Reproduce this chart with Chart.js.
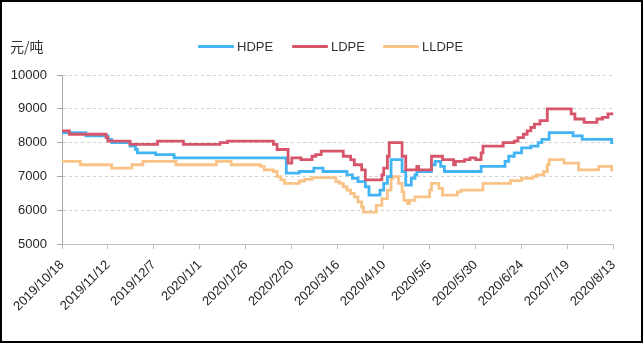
<!DOCTYPE html>
<html>
<head>
<meta charset="utf-8">
<script src="https://cdn.jsdelivr.net/npm/chart.js@4.4.0/dist/chart.umd.min.js"></script>
<style>
  html, body { margin: 0; padding: 0; background: #fff; }
  #wrap { position: relative; width: 644px; height: 347px; overflow: hidden; background: #fff; }
  #c { position: absolute; left: 0; top: 0; }
  #frame { position: absolute; left: 0; top: 0; width: 643px; height: 343px; border: 2px solid #000; box-sizing: border-box; pointer-events: none; }
  #unit { position: absolute; left: 10px; top: 37px; font-family: "Noto Sans CJK SC", sans-serif; font-size: 14px; color: #333; line-height: 18px; white-space: nowrap; }
  .lg-line { position: absolute; height: 3px; width: 36px; top: 45px; border-radius: 1px; }
  .lg-text { position: absolute; top: 38px; font-family: "Liberation Sans", Arial, sans-serif; font-size: 13px; line-height: 17px; color: #333; white-space: nowrap; }
</style>
</head>
<body>
<div id="wrap">
  <canvas id="c" width="644" height="347"></canvas>
  <div id="unit">元/吨</div>
  <div id="legend"></div>
  <div id="frame"></div>
</div>
<script>
// ---- Data (day index from 2019/10/18; each point = value from that day on) ----
const tickLabels = ['2019/10/18','2019/11/12','2019/12/7','2020/1/1','2020/1/26','2020/2/20','2020/3/16','2020/4/10','2020/5/5','2020/5/30','2020/6/24','2020/7/19','2020/8/13'];
const seriesNames = ['HDPE', 'LDPE', 'LLDPE'];
const yTicks = [5000, 6000, 7000, 8000, 9000, 10000];

const hdpeDays = [0, 13, 25, 27, 37, 40, 41, 51, 61, 122, 129, 137, 142, 155, 158, 161, 165, 167, 173, 175, 177, 179, 185, 187, 190, 192, 193, 201, 203, 206, 208, 228, 241, 243, 246, 250, 255, 259, 261, 265, 278, 283, 299, 300];
const hdpeVals = [8300, 8200, 8100, 8000, 7900, 7800, 7700, 7650, 7550, 7100, 7150, 7250, 7150, 7050, 6950, 6850, 6700, 6450, 6600, 6800, 7000, 7500, 7150, 6750, 6950, 7050, 7150, 7350, 7450, 7300, 7150, 7300, 7450, 7600, 7700, 7850, 7900, 8000, 8100, 8300, 8200, 8100, 8000, 8000];

const ldpeDays = [0, 4, 24, 25, 37, 52, 66, 86, 90, 115, 117, 123, 125, 130, 136, 138, 141, 153, 157, 159, 163, 165, 174, 175, 177, 178, 185, 187, 193, 194, 201, 207, 213, 214, 219, 222, 225, 228, 229, 240, 246, 248, 251, 253, 255, 257, 260, 264, 277, 279, 284, 291, 294, 297, 300];
const ldpeVals = [8350, 8250, 8150, 8050, 7950, 8050, 7950, 8000, 8050, 7950, 7800, 7400, 7550, 7500, 7600, 7650, 7750, 7600, 7500, 7350, 7200, 6900, 7050, 7250, 7600, 8000, 7600, 7200, 7300, 7200, 7600, 7500, 7350, 7450, 7500, 7550, 7500, 7700, 7900, 8000, 8050, 8150, 8250, 8350, 8450, 8550, 8650, 9000, 8850, 8700, 8600, 8700, 8750, 8850, 8850];

const lldpeDays = [0, 10, 27, 38, 44, 62, 84, 92, 108, 110, 115, 117, 119, 121, 129, 132, 136, 149, 151, 153, 155, 157, 159, 161, 163, 164, 171, 174, 177, 179, 180, 183, 185, 186, 188, 189, 192, 200, 201, 205, 207, 215, 217, 229, 244, 250, 256, 258, 262, 264, 265, 273, 281, 292, 299, 300];
const lldpeVals = [7450, 7350, 7250, 7350, 7450, 7350, 7450, 7350, 7300, 7200, 7150, 7000, 6900, 6800, 6870, 6920, 6970, 6850, 6800, 6700, 6600, 6500, 6400, 6250, 6100, 5950, 6150, 6350, 6600, 6950, 7000, 6800, 6550, 6300, 6200, 6300, 6400, 6600, 6800, 6650, 6450, 6550, 6600, 6800, 6880, 6950, 7000, 7050, 7150, 7350, 7500, 7400, 7200, 7300, 7200, 7200];

// ---- Styles ----
const colors = ['#42b3f3', '#d6556b', '#f9c387'];
const legendLeft = [198, 292, 383];

function pts(days, vals) { return days.map((d, i) => ({ x: d, y: vals[i] })); }
const seriesData = [pts(hdpeDays, hdpeVals), pts(ldpeDays, ldpeVals), pts(lldpeDays, lldpeVals)];

// legend (HTML text)
const lg = document.getElementById('legend');
seriesNames.forEach((n, i) => {
  const l = document.createElement('div');
  l.className = 'lg-line'; l.style.left = legendLeft[i] + 'px'; l.style.background = colors[i];
  const t = document.createElement('div');
  t.className = 'lg-text'; t.style.left = (legendLeft[i] + 39) + 'px'; t.textContent = n;
  lg.appendChild(l); lg.appendChild(t);
});

const tickFont = { family: '"Liberation Sans", Arial, sans-serif', size: 13 };

new Chart(document.getElementById('c'), {
  type: 'line',
  data: {
    datasets: seriesNames.map((n, i) => ({
      label: n,
      data: seriesData[i],
      borderColor: colors[i],
      backgroundColor: colors[i],
      borderWidth: 2.8,
      pointRadius: 0,
      stepped: true,
      tension: 0,
      fill: false,
      order: i === 1 ? 0 : (i === 0 ? 1 : 2)
    }))
  },
  options: {
    responsive: false,
    animation: false,
    devicePixelRatio: 1,
    layout: { padding: { left: 0, right: 30.5, top: 75, bottom: 0 } },
    plugins: { legend: { display: false }, tooltip: { enabled: false } },
    scales: {
      x: {
        type: 'linear',
        min: 0,
        max: 300,
        afterBuildTicks: (s) => { s.ticks = tickLabels.map((_, i) => ({ value: i * 25 })); },
        afterFit: (s) => { s.height = 102.7; },
        ticks: {
          autoSkip: false,
          maxRotation: 45,
          minRotation: 45,
          padding: 8,
          color: '#262626',
          font: tickFont,
          callback: (v) => tickLabels[Math.round(v / 25)]
        },
        grid: { drawOnChartArea: false, drawTicks: true, tickLength: 5, color: '#bfbfbf', tickColor: '#bfbfbf' },
        border: { display: true, color: '#bfbfbf', width: 1 }
      },
      y: {
        min: 5000,
        max: 10000,
        afterBuildTicks: (s) => { s.ticks = yTicks.map(v => ({ value: v })); },
        afterFit: (s) => { s.width = 62; },
        ticks: { padding: 10, color: '#262626', font: tickFont, callback: (v) => String(v) },
        grid: { color: '#cfcfcf', tickColor: '#a6a6a6', tickLength: 5, tickBorderDash: [] },
        border: { display: true, color: '#a6a6a6', width: 1, dash: [3, 3] }
      }
    }
  }
});
</script>
</body>
</html>
